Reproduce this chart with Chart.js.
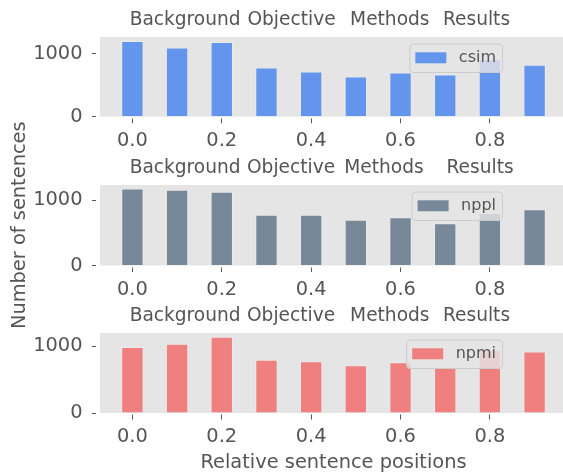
<!DOCTYPE html>
<html>
<head>
<meta charset="utf-8">
<script src="https://cdn.jsdelivr.net/npm/chart.js@4.4.1/dist/chart.umd.min.js"></script>
<style>
  html, body { margin: 0; padding: 0; background: #fff; overflow: hidden; width: 563px; height: 475px; }
  canvas { position: absolute; left: 0; top: 0; }
</style>
</head>
<body>
<canvas id="c1" width="567" height="475"></canvas>
<canvas id="c2" width="567" height="475"></canvas>
<canvas id="c3" width="567" height="475"></canvas>
<script>
// relative sentence position of each bar
var positions = [0.0, 0.1, 0.2, 0.3, 0.4, 0.5, 0.6, 0.7, 0.8, 0.9]
// number of sentences per position
var csim = [1205, 1099, 1187, 781, 719, 641, 703, 672, 911, 828]
var nppl = [1183, 1162, 1132, 777, 777, 700, 741, 650, 807, 863]
var npmi = [990, 1039, 1142, 799, 775, 716, 760, 677, 946, 922]

var xTicks = [0.0, 0.2, 0.4, 0.6, 0.8]
var yTicks = [0, 1000]

// section labels on the top axis and where they sit
var sections = ['Background', 'Objective', 'Methods', 'Results']
var sectionPosCsim = [0.118, 0.356, 0.576, 0.770]
var sectionPosNppl = [0.118, 0.355, 0.563, 0.778]
var sectionPosNpmi = [0.118, 0.355, 0.576, 0.770]

var FS = 19.4
var FS_TOP = 18.6

Chart.defaults.font.family = "'DejaVu Sans', sans-serif"
Chart.defaults.color = '#555555'

var panelBg = {
  id: 'panelBg',
  beforeDraw: function(chart) {
    var a = chart.chartArea, ctx = chart.ctx
    ctx.save()
    ctx.fillStyle = '#E5E5E5'
    ctx.fillRect(a.left, a.top, a.right - a.left, a.bottom - a.top)
    ctx.restore()
  }
}

// matplotlib-like legend box inside the axes
var boxLegend = {
  id: 'boxLegend',
  afterDatasetsDraw: function(chart) {
    var a = chart.chartArea, ctx = chart.ctx
    var ds = chart.data.datasets[0]
    ctx.save()
    ctx.font = "16px 'DejaVu Sans', sans-serif"
    var tw = ctx.measureText(ds.label).width
    var right = a.right - 65
    var w = 6 + 31 + 12.5 + tw + 6
    var left = right - w
    var top = a.top + 6.6
    var h = 28.4
    ctx.beginPath()
    ctx.roundRect(left + 0.5, top + 0.5, w, h, 3.5)
    ctx.fillStyle = 'rgba(229,229,229,0.8)'
    ctx.fill()
    ctx.strokeStyle = '#CCCCCC'
    ctx.lineWidth = 1
    ctx.stroke()
    var cy = top + h / 2
    ctx.fillStyle = ds.backgroundColor
    ctx.fillRect(left + 6, cy - 5.5, 31, 11)
    ctx.fillStyle = '#555555'
    ctx.textBaseline = 'middle'
    ctx.textAlign = 'left'
    ctx.fillText(ds.label, left + 6 + 31 + 12.5, cy)
    ctx.restore()
  }
}

function makePanel(id, label, values, color, sectionPos, yMax, padTop, padBottom, bottomH, showX, showY) {
  var pts = positions.map(function(p, i) { return {x: p, y: values[i]} })
  return new Chart(document.getElementById(id), {
    type: 'bar',
    data: {
      datasets: [{
        label: label,
        data: pts,
        backgroundColor: color,
        borderColor: 'rgba(255,255,255,0.25)',
        borderWidth: 1,
        categoryPercentage: 1.0,
        barPercentage: 0.5
      }]
    },
    options: {
      responsive: false,
      animation: false,
      devicePixelRatio: 1,
      layout: { padding: { top: padTop, bottom: padBottom, left: 0, right: 0 } },
      plugins: { legend: { display: false }, tooltip: { enabled: false } },
      scales: {
        x: {
          type: 'linear', position: 'bottom', min: -0.0725, max: 0.9725, offset: false,
          afterBuildTicks: function(s) { s.ticks = xTicks.map(function(v) { return {value: v} }) },
          afterFit: function(s) { s.height = bottomH },
          grid: { drawOnChartArea: false, offset: false, tickLength: 6.5, tickColor: '#555555', tickWidth: 1, tickBorderDash: [5, 10], tickBorderDashOffset: -1.5 },
          border: { display: false },
          ticks: { padding: 5.9, font: { size: FS }, maxRotation: 0, autoSkip: false, callback: function(v) { return v.toFixed(1) } },
          title: { display: showX, text: 'Relative sentence positions', font: { size: FS }, padding: { top: 0, bottom: 0 } }
        },
        x2: {
          type: 'linear', position: 'top', min: -0.0725, max: 0.9725, offset: false,
          afterBuildTicks: function(s) { s.ticks = sectionPos.map(function(v) { return {value: v} }) },
          afterFit: function(s) { s.height = 37 },
          grid: { display: false, drawTicks: false, tickLength: 0 },
          border: { display: false },
          ticks: { padding: 5.8, font: { size: FS_TOP }, maxRotation: 0, autoSkip: false, callback: function(v, i) { return sections[i] } }
        },
        y: {
          min: 0, max: yMax,
          afterBuildTicks: function(s) { s.ticks = yTicks.map(function(v) { return {value: v} }) },
          afterFit: function(s) { s.width = 100 },
          grid: { drawOnChartArea: false, tickLength: 8, tickColor: '#555555', tickWidth: 1, tickBorderDash: [4, 8], tickBorderDashOffset: 0 },
          border: { display: false },
          ticks: { padding: 9.5, font: { size: FS }, callback: function(v) { return String(v) } },
          title: { display: showY, text: 'Number of sentences', font: { size: FS }, padding: { top: 8.4, bottom: 0 } }
        }
      }
    },
    plugins: [panelBg, boxLegend]
  })
}

makePanel('c1', 'csim', csim, '#6495ED', sectionPosCsim, 1268, 0, 327.3, 31, false, false)
makePanel('c2', 'nppl', nppl, '#778899', sectionPosNppl, 1235, 148, 178.5, 31, false, true)
makePanel('c3', 'npmi', npmi, '#F08080', sectionPosNpmi, 1200, 296, 0, 62, true, false)
</script>
</body>
</html>
